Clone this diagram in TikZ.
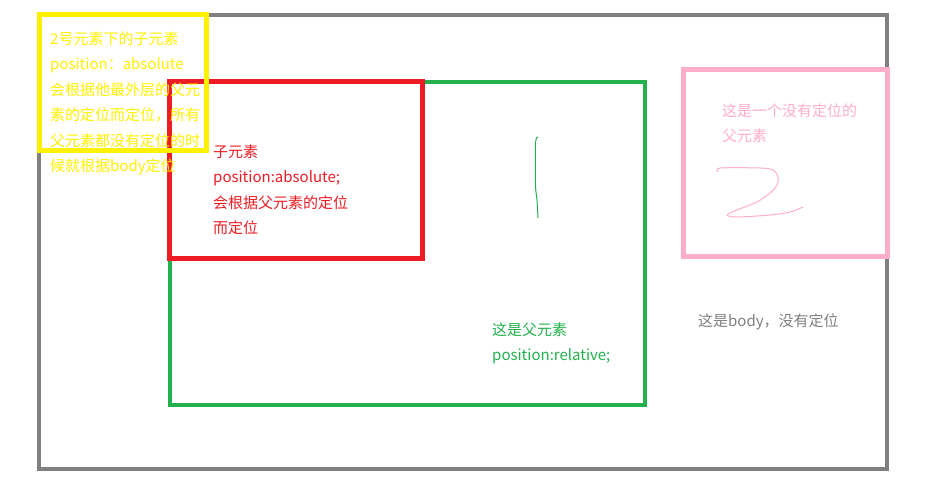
\documentclass[tikz,border=0pt]{standalone}
\usepackage{fontspec}
\setmainfont{Noto Sans CJK SC}
\usetikzlibrary{calc}
\definecolor{bodygray}{RGB}{128,128,128}
\definecolor{sonyellow}{RGB}{255,242,0}
\definecolor{sonred}{RGB}{237,28,36}
\definecolor{fagreen}{RGB}{34,177,76}
\definecolor{papink}{RGB}{255,174,201}
\tikzset{
  note/.style={anchor=base west, inner sep=0pt, align=left,
    font=\fontsize{15pt}{25.5pt}\selectfont},
}

\begin{document}
\begin{tikzpicture}[x=1pt,y=-1pt]
        \useasboundingbox (0,0) rectangle (936,488);
        % corners of the boxes
        \coordinate (B1) at (39,14.5);
        \coordinate (B2) at (886.5,469);
        \coordinate (G1) at (169.5,81.5);
        \coordinate (G2) at (644.5,405);
        \coordinate (P1) at (683.5,69.5);
        \coordinate (P2) at (887.5,256.5);
        \coordinate (R1) at (169.5,81.5);
        \coordinate (R2) at (422.5,258.5);
        \coordinate (Y1) at (39.5,14.5);
        \coordinate (Y2) at (206.5,150.5);
        \draw[bodygray,line width=4pt] (B1) rectangle (B2);
        \draw[fagreen,line width=4pt] (G1) rectangle (G2);
        \draw[sonred,line width=5pt] (R1) rectangle (R2);
        \draw[papink,line width=5pt] (P1) rectangle (P2);
        % hand written numbers
        \draw[fagreen,line width=1pt] plot[smooth] coordinates
          {(538,137) (535.5,143) (535.5,185) (537,200) (538,218)};
        \draw[papink,line width=1pt] plot[smooth] coordinates
          {(718,172) (720,168) (760,168) (773,170) (778,177) (777,185)
           (770,193) (757,202) (737,210) (727,215) (737,217) (770,215)
           (790,212) (803,207)};
        % texts (base = last line)
        \node[note,text=sonred] (redtext) at (213,233.5)
          {子元素\\position:absolute;\\会根据父元素的定位\\而定位};
        \node[note,text=fagreen] (greentext) at (492,360.5)
          {这是父元素\\position:relative;};
        \node[note,text=papink] (pinktext) at (722,141.5)
          {这是一个没有定位的\\父元素};
        \node[note,text=bodygray] (bodytext) at (698,326) {这是body，没有定位};
        \draw[sonyellow,line width=5pt] (Y1) rectangle (Y2);
        \node[note,text=sonyellow] (yellowtext) at (50,171.5)
          {2号元素下的子元素\\position：absolute\\会根据他最外层的父元\\素的定位而定位，所有\\父元素都没有定位的时\\候就根据body定位};
\end{tikzpicture}
\end{document}
